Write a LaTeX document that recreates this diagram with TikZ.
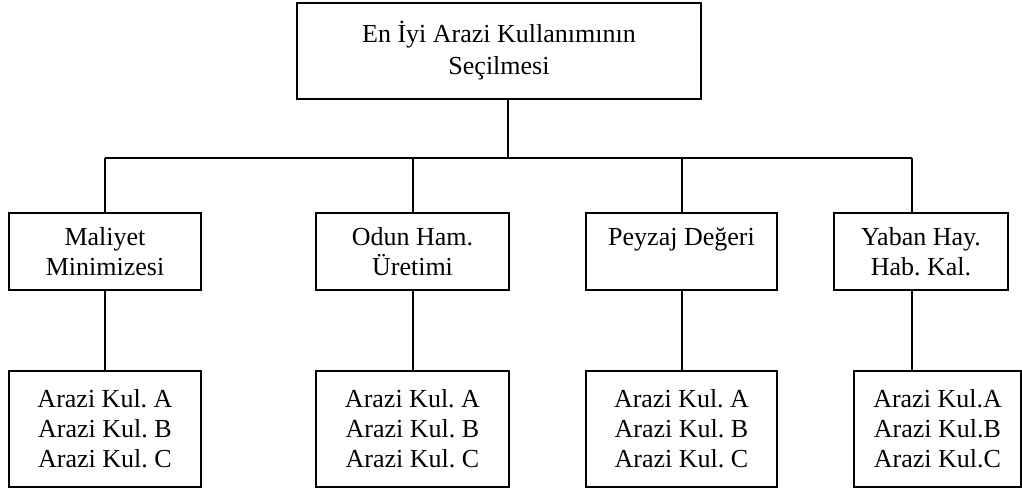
\documentclass[tikz,border=0pt]{standalone}
\usepackage{fontspec}
\setmainfont{Liberation Serif}
\frenchspacing
\begin{document}
\begin{tikzpicture}[x=1pt,y=-1pt,
  box/.style={draw, line width=1.7pt, inner sep=0pt, align=center,
    font=\fontsize{26}{30}\selectfont\frenchspacing},
  conn/.style={line width=1.7pt}]
\useasboundingbox[fill=white] (0,0) rectangle (1022,490);
% top
\node[box, minimum width=404pt, minimum height=96pt] (top) at (499,51)
  {En İyi Arazi Kullanımının\\[2pt]Seçilmesi};
% level 2
\node[box, minimum width=192pt, minimum height=77pt] (m1) at (105,251.5) {Maliyet\\Minimizesi};
\node[box, minimum width=193pt, minimum height=77pt] (m2) at (412.5,251.5) {Odun Ham.\\Üretimi};
\node[box, minimum width=191pt, minimum height=77pt] (m3) at (681.5,251.5) {Peyzaj Değeri\\\phantom{X}};
\node[box, minimum width=174pt, minimum height=77pt] (m4) at (921,251.5) {Yaban Hay.\\Hab. Kal.};
% level 3
\node[box, minimum width=192pt, minimum height=116pt] (a1) at (105,429) {Arazi Kul. A\\Arazi Kul. B\\Arazi Kul. C};
\node[box, minimum width=193pt, minimum height=116pt] (a2) at (412.5,429) {Arazi Kul. A\\Arazi Kul. B\\Arazi Kul. C};
\node[box, minimum width=191pt, minimum height=116pt] (a3) at (681.5,429) {Arazi Kul. A\\Arazi Kul. B\\Arazi Kul. C};
\node[box, minimum width=167pt, minimum height=116pt] (a4) at (937.5,429) {Arazi Kul.A\\Arazi Kul.B\\Arazi Kul.C};
% bus coordinates
\coordinate (bus) at (508,158);
\coordinate (j1) at (105,158);
\coordinate (j2) at (413,158);
\coordinate (j3) at (682,158);
\coordinate (j4) at (912,158);
% connectors
\draw[conn] (top.south -| bus) -- (bus);
\draw[conn] (j1) -- (j4);
\draw[conn] (j1) -- (m1.north -| j1);
\draw[conn] (j2) -- (m2.north -| j2);
\draw[conn] (j3) -- (m3.north -| j3);
\draw[conn] (j4) -- (m4.north -| j4);
\draw[conn] (m1.south -| j1) -- (a1.north -| j1);
\draw[conn] (m2.south -| j2) -- (a2.north -| j2);
\draw[conn] (m3.south -| j3) -- (a3.north -| j3);
\draw[conn] (m4.south -| j4) -- (a4.north -| j4);
\end{tikzpicture}
\end{document}
